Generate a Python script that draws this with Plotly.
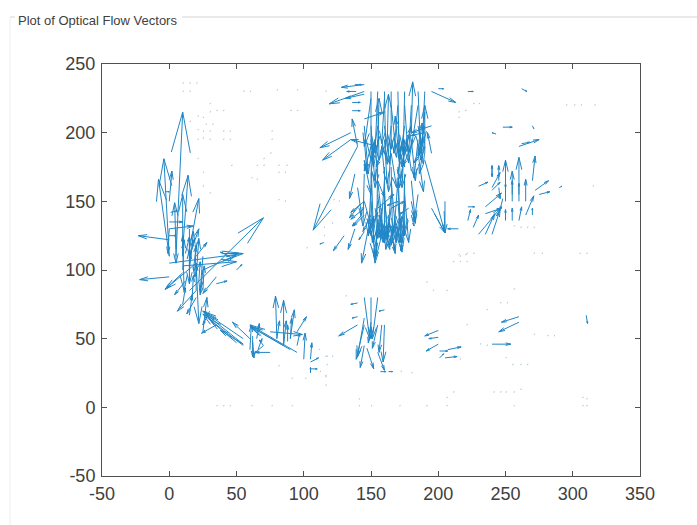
import plotly.graph_objects as go

# Each row: x, y, u, v in data units
left_up = [
    (5,110,5,105),(0,110,-4,71),(0,110,-8,56),(5,115,-1,34),(10,115,4,54),(10,110,0,45),
    (15,115,7,37),(0,150,2,22),(10,110,0,15),(15,105,3,17),(15,110,7,20),(20,110,8,10),
    (0,130,18,2),(0,135,10,0),(0,125,5,0),(1,142,5,1),(-3,157,3,0),(15,90,0,25),(10,100,1,22),
    (15,100,3,28),(20,85,0,20),(20,95,2,28),(25,85,1,18),(25,55,3,25),(15,67,2,15),(10,75,2,12),
    (18,100,2,18),(12,112,3,12),(22,92,1,14),(17,80,1,16),
]
left_side = [
    (0,122,-23,3),(0,95,-22,-2),(0,105,55,7),(15,85,55,53),(20,105,-23,-19),(10,98,-13,-12),
    (35,90,8,2),(10,103,40,3),(40,112,12,0),(25,100,25,11),(50,100,4,4),(45,110,-7,3),(35,95,-10,-12),
]
left_down = [
    (20,105,2,-44),(10,125,1,-40),(0,130,-1,-18),(25,100,-2,-18),(25,110,-2,-25),(20,120,-1,-25),
    (15,120,0,-30),(5,130,0,-25),(15,130,0,-20),(20,85,-14,-15),(20,80,-7,-12),(12,92,-8,-10),
    (35,60,-11,-6),(30,70,-5,-10),
]
arc = [
    (55,50,-30,20),(50,47,-25,21),(55,46,-28,22),(35,65,-10,5),(55,45,-25,19),(55,46,-17,10),
    (60,50,-13,12),(95,40,-35,20),(90,42,-30,17),(85,45,-25,14),(60,42,1,18),(75,55,24,-2),
    (65,50,2,11),(80,50,-1,31),(85,45,0,33),(80,50,2,13),(90,50,3,21),(95,55,7,11),(90,50,1,15),
    (85,45,2,18),(88,48,0,12),(95,45,2,9),(100,35,1,19),(105,35,1,12),(75,40,-11,0),(70,45,-7,-6),
    (66,42,3,8),(62,52,0,-15),(62,48,1,-12),(105,33,6,3),(105,28,5,0),(105,25,0,4),(70,45,-3,4),
]
center_top = [
    (150,230,0,-50),(155,230,-2,-45),(160,230,1,-48),(165,230,0,-42),(170,230,1,-48),(175,230,-1,-44),
    (185,230,2,-45),(190,230,-2,-40),(150,225,-5,-35),(155,220,1,-40),(160,225,-2,-33),(165,220,4,-38),
    (170,220,-3,-35),(175,220,3,-42),(180,220,-2,-35),(185,220,-5,-30),(190,215,-3,-35),(145,205,3,-35),
    (150,205,2,-30),(155,205,-4,-26),(160,205,4,-28),(165,205,-3,-28),(170,205,3,-30),(175,205,-4,-26),
    (180,205,-6,-22),(185,205,4,-28),(190,205,-5,-22),
    (155,190,1,35),(162,190,1,38),(180,200,1,37),(190,185,0,35),(170,190,-2,22),(175,185,5,20),
    (185,185,3,22),(195,185,-3,15),(140,190,-4,20),
    (150,195,3,-30),(155,195,-2,-35),(160,195,2,-32),(165,195,-2,-38),(170,195,2,-30),(175,195,-2,-35),
    (180,195,3,-30),(185,195,-3,-28),(190,195,-4,-25),(145,195,2,-25),(150,190,-5,-18),(160,190,-6,-15),
    (170,190,5,-15),(180,190,-6,-14),(190,190,-8,-12),
    (150,170,3,25),(160,170,-2,20),(170,170,3,22),(180,172,-3,20),(145,180,5,-25),(165,185,4,-25),(175,185,-4,-25),
]
center_bottom = [
    (150,180,2,-60),(155,180,-1,-70),(160,175,0,-55),(165,175,1,-50),(170,175,2,-55),(175,170,-1,-45),
    (180,165,3,-30),(145,170,-1,-38),(150,170,0,-45),(155,165,5,-45),(160,165,-3,-40),(165,165,4,-45),
    (170,165,-3,-38),(175,165,0,-40),(185,185,4,-28),(148,130,-5,-25),(155,135,-2,-30),(150,150,3,-42),
    (160,150,4,-33),(165,145,-4,-30),(170,150,3,-37),(175,150,-4,-30),(180,150,3,-16),(155,150,-4,-30),
    (145,140,-8,-8),(150,140,-6,-12),(155,130,-3,-20),(160,130,4,-15),(165,130,3,-18),(170,130,-3,-15),
    (175,130,-3,-16),(142,148,-8,-10),(145,145,-10,-8),(185,155,-3,-20),(180,140,2,-8),
    (155,145,12,10),(165,145,10,5),(170,150,-8,-3),(155,165,5,-12),
    (160,160,2,-38),(165,155,-3,-32),(170,160,3,-40),(155,155,4,-35),(150,160,-2,-35),(175,155,3,-35),
    (158,145,-3,-22),(163,140,3,-20),(168,140,-3,-22),(153,145,4,-22),(172,142,-4,-20),
    (150,130,5,12),(160,125,-4,15),(170,125,3,14),(145,150,5,-18),(148,125,4,14),(178,145,-6,-4),
]
center_side = [
    (140,190,-33,-61),(135,200,-23,-11),(135,195,-21,-15),(145,230,-26,-9),(145,228,-14,-3),
    (145,235,-17,-2),(139,230,-7,0),(138,235,5,0),(130,125,-8,-11),(138,130,-5,-15),(138,170,-4,-18),
    (190,180,15,-53),(195,145,10,-18),(205,150,0,-23),(215,130,-8,0),(195,230,18,-8),(200,232,4,0),
    (136,216,6,0),(136,222,6,0),(145,210,15,5),(195,205,-15,-5),(190,200,-10,-2),
    (155,190,-20,5),(145,128,-4,-6),(115,120,-3,-1),(145,150,-10,-8),(143,140,-7,-8),(140,160,3,-20),
]
center_low = [
    (145,80,4,-30),(150,80,0,-30),(155,80,-4,-30),(145,60,-6,-25),(145,65,-5,-28),(145,45,-3,-16),
    (147,43,5,-15),(155,40,5,-13),(160,60,-1,-27),(155,60,-4,-17),(150,62,-2,-15),(158,60,-2,-20),
    (140,60,-14,-8),(140,76,-5,-1),(140,66,-4,-1),(160,71,-4,-1),(157,26,4,0),(163,26,3,0),
]
mid_low = [
    (200,56,-10,-4),(200,51,-7,-1),(200,46,-9,-5),(207,42,10,2),(201,41,6,0),(205,36,9,1),(201,36,3,3),
    (240,46,14,0),(260,66,-13,-4),(260,62,-15,-7),(310,67,1,-6),
]
right = [
    (240,168,0,8),(240,176,0,-8),(245,165,0,11),(250,150,0,30),(255,150,0,22),(260,150,0,32),(270,165,2,18),
    (265,150,0,16),(265,140,6,14),(272,158,10,7),(275,155,8,2),(260,190,15,5),(262,192,6,1),
    (230,161,7,3),(240,160,6,11),(245,160,1,-8),(250,155,0,8),(255,155,0,10),(260,155,0,8),(235,146,12,10),
    (230,126,17,20),(240,126,6,18),(235,126,7,15),(235,141,12,4),(250,136,0,8),(255,136,0,9),(260,136,2,10),
    (226,131,4,9),(222,136,2,8),(270,140,0,5),(248,152,-2,-8),(240,158,6,6),(262,232,4,-2),(243,199,-3,1),
    (222,230,4,0),(270,205,1,-2),(290,160,2,1),(248,204,7,0),(222,146,5,0),
]
faint_x = [10,15,20,10,15,55,60,80,95,30,30,35,40,90,95,21,25,15,27,32,21,25,30,40,45,21,25,30,40,45,
           76,76,75,70,21,46,65,70,81,87,81,86,25,61,65,25,30,81,86,35,40,45,61,76,91,
           111,117,112,116,91,101,81,131,191,196,206,246,251,256,236,221,271,281,286,236,231,250,255,261,266,
           216,180,172,241,246,250,256,261,307,310,211,206,141,141,150,171,191,206,256,307,310,
           116,121,117,116,116,215,220,226,230,295,301,306,316,315,221,226,216,271,277,305,310,
           256,261,266,271,215,215,220,211,216,221,122,126,116,121,115,115,102]
faint_y = [236,236,236,230,230,230,230,231,231,221,215,216,216,216,216,212,211,208,206,206,202,201,201,201,201,
           195,196,195,195,195,
           201,195,185,181,181,176,176,176,176,176,171,171,171,167,166,161,156,151,150,1,1,1,1,1,1,
           42,37,26,23,21,21,30,81,91,85,85,76,76,86,71,60,53,52,52,45,46,36,31,31,31,
           35,25,26,11,11,11,11,13,7,6,11,7,6,1,1,1,1,1,1,1,1,
           37,37,31,22,16,215,216,221,221,220,220,220,220,161,112,112,110,112,112,112,112,
           132,131,131,131,211,111,111,106,106,106,151,150,230,134,131,125,116]
x_ticks = [-50,0,50,100,150,200,250,300,350]
y_ticks = [-50,0,50,100,150,200,250]

groups = [left_up, left_side, left_down, arc, center_top, center_bottom, center_side, center_low, mid_low, right]
HEAD_ALPHA = 0.28
HEAD_BETA = 0.24

def quiver_path(rows):
    xs, ys = [], []
    for x, y, u, v in rows:
        tx, ty = x + u, y + v
        xs += [x, tx, None, tx - HEAD_ALPHA * (u + HEAD_BETA * v), tx, tx - HEAD_ALPHA * (u - HEAD_BETA * v), None]
        ys += [y, ty, None, ty - HEAD_ALPHA * (v - HEAD_BETA * u), ty, ty - HEAD_ALPHA * (v + HEAD_BETA * u), None]
    return xs, ys

vx, vy = quiver_path([r for g in groups for r in g])
fx, fy = quiver_path([(a, b, 0.8, 0.3) for a, b in zip(faint_x, faint_y)])

fig = go.Figure()
fig.add_trace(go.Scatter(x=fx, y=fy, mode="lines", line=dict(color="#a9c6da", width=1), hoverinfo="skip", showlegend=False))
fig.add_trace(go.Scatter(x=vx, y=vy, mode="lines", line=dict(color="#2086c6", width=1), hoverinfo="skip", showlegend=False))

W, H, L, R, T, B = 697, 525, 102, 640, 64, 476
def px(v): return (v - L) / (R - L)
def py(v): return (B - v) / (B - T)

axis = dict(showgrid=False, zeroline=False, ticks="inside", ticklen=5, tickwidth=1, tickcolor="#505050",
            showline=True, linecolor="#505050", linewidth=1, mirror="ticks", tickmode="array",
            tickfont=dict(family="Liberation Sans, Arial, sans-serif", size=18, color="#404040"))
fig.update_layout(
    width=W, height=H, margin=dict(l=L, r=W - R, t=T, b=H - B), paper_bgcolor="white", plot_bgcolor="white",
    xaxis=dict(range=[-50, 350], tickvals=x_ticks, ticktext=[str(t) for t in x_ticks], ticklabelstandoff=1, **axis),
    yaxis=dict(range=[-50, 250], tickvals=y_ticks, ticktext=[str(t) for t in y_ticks], ticklabelstandoff=2, **axis),
    showlegend=False,
    annotations=[dict(text="Plot of Optical Flow Vectors", xref="paper", yref="paper", x=px(16), y=py(20),
                      xanchor="left", yanchor="middle", showarrow=False,
                      font=dict(family="Liberation Sans, Arial, sans-serif", size=13, color="#404040"))],
    shapes=[
        dict(type="line", xref="paper", yref="paper", x0=px(10), x1=px(15), y0=py(17), y1=py(17), line=dict(color="#d4d4d4", width=1)),
        dict(type="line", xref="paper", yref="paper", x0=px(182), x1=px(697), y0=py(17), y1=py(17), line=dict(color="#d4d4d4", width=1)),
        dict(type="line", xref="paper", yref="paper", x0=px(10), x1=px(10), y0=py(17), y1=py(525), line=dict(color="#eeeeee", width=1)),
    ],
)
fig.write_html("out.html", config={"displayModeBar": False},
               post_script="document.body.style.margin='0';document.body.style.overflow='hidden';")
